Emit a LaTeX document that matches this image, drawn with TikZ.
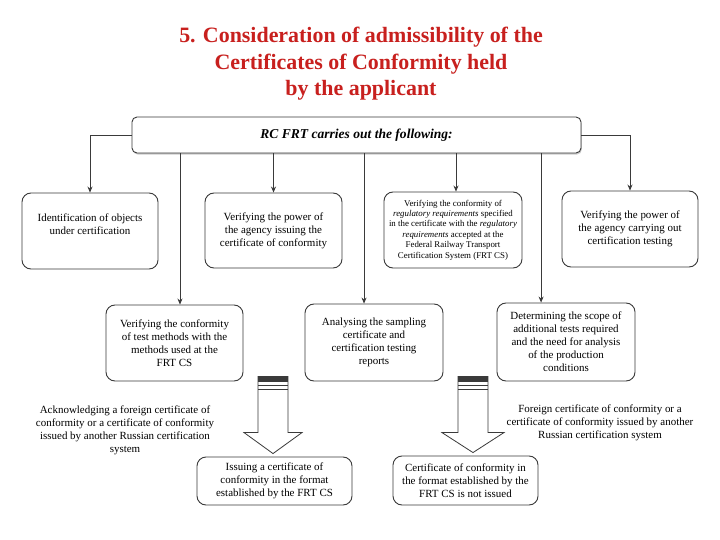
\documentclass[tikz,border=0pt]{standalone}
\usepackage{fontspec}
\setmainfont{Liberation Serif}
\usetikzlibrary{arrows.meta,positioning,shadows,calc}
\definecolor{TitleRed} {HTML}{C8201E}
\definecolor{EdgeGray} {HTML}{3A3A3A}
\definecolor{ShadeGray}{HTML}{9A9A9A}
\tikzset{
  cbox/.style={rectangle,rounded corners=9bp,draw=EdgeGray,line width=0.9bp,
               fill=white,align=center,inner sep=2bp,
               font=\fontsize{11}{13}\selectfont},
  note/.style={align=center,font=\fontsize{11}{13}\selectfont},
  sarr/.style={-{Stealth[length=6bp,width=5bp]},line width=0.7bp,color=EdgeGray},
  barrow/.style={draw=EdgeGray,line width=0.8bp,fill=white,line join=miter},
}

\begin{document}
\begin{tikzpicture}[x=1bp,y=-1bp]

  \fill[white] (0,0) rectangle (720,540);
  \useasboundingbox (0,0) rectangle (720,540);

  \node[font=\fontsize{22}{26.5}\selectfont\bfseries,color=TitleRed,align=center]
    (title) at (361,64){5. Consideration of admissibility of the\\
                        Certificates of Conformity held\\by the applicant};

  \node[cbox,rounded corners=5bp,minimum width=449bp,minimum height=36bp,
        font=\fontsize{13.6}{15}\selectfont\bfseries\itshape,
        drop shadow={shadow xshift=0.8bp,shadow yshift=-1.6bp,fill=ShadeGray}]
    (rc) at (356.5,135){RC FRT carries out the following:};

  % first row
  \node[cbox,minimum width=136bp,minimum height=76bp]
    (ident) at (90,231){Identification of objects\\under certification\\\mbox{}};
  \node[cbox,minimum width=137bp,minimum height=75bp]
    (issuer) at (273.5,230.5){Verifying the power of\\the agency issuing the\\certificate of conformity};
  \node[cbox,minimum width=138bp,minimum height=76bp,
        font=\fontsize{8.9}{10.5}\selectfont]
    (regreq) at (453,230){Verifying the conformity of\\
      \textit{regulatory requirements} specified\\
      in the certificate with the \textit{regulatory}\\
      \textit{requirements} accepted at the\\
      Federal Railway Transport\\
      Certification System (FRT CS)};
  \node[cbox,minimum width=136bp,minimum height=76bp]
    (testpow) at (630,229){Verifying the power of\\the agency carrying out\\certification testing};

  % second row
  \node[cbox,minimum width=137bp,minimum height=76bp]
    (methods) at (174.5,343){Verifying the conformity\\of test methods with the\\methods used at the\\FRT CS};
  \node[cbox,minimum width=138bp,minimum height=77bp]
    (sampling) at (374,342.5){Analysing the sampling\\certificate and\\certification testing\\reports};
  \node[cbox,minimum width=138bp,minimum height=78bp]
    (scope) at (566,342){Determining the scope of\\additional tests required\\and the need for analysis\\of the production\\conditions};

  % outcomes
  \node[note] (ack) at (125,430){Acknowledging a foreign certificate of\\
    conformity or a certificate of conformity\\issued by another Russian certification\\system};
  \node[note] (foreign) at (600,423){Foreign certificate of conformity or a\\
    certificate of conformity issued by another\\Russian certification system};

  \node[cbox,minimum width=155bp,minimum height=48bp]
    (issue) at (274.5,481){Issuing a certificate of\\conformity in the format\\established by the FRT CS};
  \node[cbox,minimum width=145bp,minimum height=49bp]
    (notissued) at (465.5,480.5){Certificate of conformity in\\the format established by the\\FRT CS is not issued};

  % connectors from RC FRT
  \draw[sarr] (rc.west) -| (ident.north);
  \draw[sarr] (rc.east) -| (testpow.north);
  \draw[sarr] (rc.south -| issuer.north) -- (issuer.north);
  \draw[sarr] ([xshift=3]regreq.north |- rc.south) -- ([xshift=3]regreq.north);
  \draw[sarr] ([xshift=5.5]methods.north |- rc.south) -- ([xshift=5.5]methods.north);
  \draw[sarr] ([xshift=-10]sampling.north |- rc.south) -- ([xshift=-10]sampling.north);
  \draw[sarr] ([xshift=-25]scope.north |- rc.south) -- ([xshift=-25]scope.north);

  % block arrows
  \coordinate (tipA) at ([xshift=-1.5,yshift=3]issue.north);
  \draw[barrow] (tipA) -- ++(-29,-21) -- ++(14,0) -- ++(0,-56) -- ++(30,0)
    -- ++(0,56) -- ++(14,0) -- cycle;
  \fill[EdgeGray] (tipA) ++(-15,-77) rectangle ++(30,5);
  \draw[EdgeGray,line width=0.8bp] (tipA) ++(-15,-68) -- ++(30,0);
  \draw[EdgeGray,line width=0.6bp] (tipA) ++(-15,-64.5) -- ++(30,0);

  \coordinate (tipB) at ([xshift=7.5,yshift=3]notissued.north);
  \draw[barrow] (tipB) -- ++(-31,-20) -- ++(16,0) -- ++(0,-56) -- ++(30,0)
    -- ++(0,56) -- ++(16,0) -- cycle;
  \fill[EdgeGray] (tipB) ++(-15,-76) rectangle ++(30,5);
  \draw[EdgeGray,line width=0.8bp] (tipB) ++(-15,-67) -- ++(30,0);
  \draw[EdgeGray,line width=0.6bp] (tipB) ++(-15,-63.5) -- ++(30,0);

\end{tikzpicture}
\end{document}
